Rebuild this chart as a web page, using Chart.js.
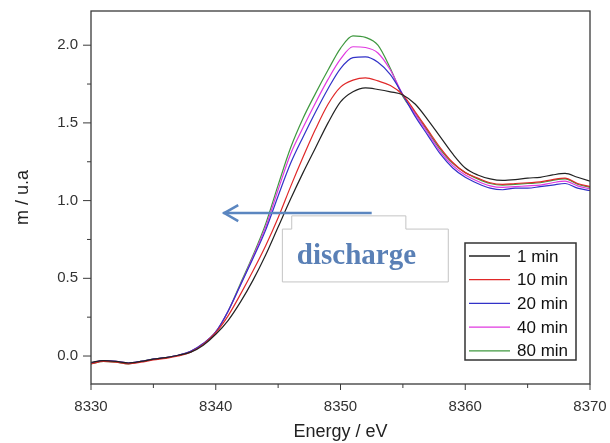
<!DOCTYPE html>
<html>
<head>
<meta charset="utf-8">
<script src="https://cdn.jsdelivr.net/npm/chart.js@4"></script>
<style>
  body { margin: 0; background: #fff; }
  canvas { display: block; }
</style>
</head>
<body>
<canvas id="xanes" width="610" height="443"></canvas>
<script>
const energy = [8330, 8331, 8332, 8333, 8334, 8335, 8336, 8337, 8338, 8339,
  8340, 8341, 8342, 8343, 8344, 8345, 8346, 8347, 8348, 8349,
  8350, 8351, 8352, 8353, 8354, 8355, 8356, 8357, 8358, 8359,
  8360, 8361, 8362, 8363, 8364, 8365, 8366, 8367, 8368, 8369, 8370];

const min1 = [-0.04, -0.03, -0.035, -0.045, -0.035, -0.02, -0.01, 0.005, 0.025, 0.07,
  0.14, 0.23, 0.35, 0.49, 0.65, 0.83, 1.01, 1.18, 1.34, 1.50,
  1.635, 1.70, 1.725, 1.715, 1.70, 1.68, 1.62, 1.52, 1.41, 1.30,
  1.21, 1.165, 1.14, 1.13, 1.135, 1.145, 1.15, 1.165, 1.175, 1.15, 1.125];
const min10 = [-0.05, -0.035, -0.04, -0.05, -0.04, -0.025, -0.015, 0.0, 0.025, 0.075,
  0.15, 0.26, 0.40, 0.55, 0.71, 0.89, 1.09, 1.28, 1.46, 1.62,
  1.73, 1.775, 1.79, 1.77, 1.74, 1.68, 1.57, 1.455, 1.34, 1.245,
  1.18, 1.145, 1.115, 1.105, 1.11, 1.115, 1.12, 1.135, 1.145, 1.11, 1.09];
const min20 = [-0.045, -0.03, -0.035, -0.045, -0.035, -0.02, -0.01, 0.005, 0.03, 0.08,
  0.155, 0.29, 0.46, 0.63, 0.81, 1.03, 1.24, 1.41, 1.57, 1.72,
  1.85, 1.92, 1.925, 1.89, 1.81, 1.68, 1.54, 1.42, 1.30, 1.21,
  1.15, 1.11, 1.08, 1.07, 1.08, 1.08, 1.09, 1.10, 1.11, 1.08, 1.065];
const min40 = [-0.045, -0.03, -0.035, -0.045, -0.035, -0.02, -0.01, 0.005, 0.03, 0.08,
  0.155, 0.29, 0.46, 0.64, 0.83, 1.07, 1.30, 1.47, 1.63, 1.78,
  1.91, 1.99, 1.985, 1.95, 1.84, 1.68, 1.555, 1.435, 1.315, 1.225,
  1.165, 1.125, 1.095, 1.085, 1.09, 1.095, 1.10, 1.115, 1.125, 1.095, 1.075];
const min80 = [-0.05, -0.035, -0.04, -0.05, -0.035, -0.02, -0.01, 0.005, 0.03, 0.08,
  0.155, 0.29, 0.47, 0.65, 0.85, 1.10, 1.34, 1.53, 1.69, 1.84,
  1.98, 2.06, 2.05, 2.00, 1.85, 1.67, 1.56, 1.445, 1.33, 1.24,
  1.18, 1.14, 1.11, 1.10, 1.105, 1.11, 1.115, 1.13, 1.14, 1.105, 1.085];

const seriesLabels = ['1 min', '10 min', '20 min', '40 min', '80 min'];
const seriesValues = [min1, min10, min20, min40, min80];
const seriesColors = ['#222222', '#e02828', '#3232c8', '#e038e0', '#3f983f'];

const xTicks = [8330, 8340, 8350, 8360, 8370];
const xMinorTicks = [8335, 8345, 8355, 8365];
const yTicks = [0.0, 0.5, 1.0, 1.5, 2.0];
const yMinorTicks = [0.25, 0.75, 1.25, 1.75];

const SANS = "'Liberation Sans', Arial, sans-serif";

function noLabelPadding(scale) {
  scale.paddingLeft = 0;
  scale.paddingRight = 0;
  scale.paddingTop = 0;
  scale.paddingBottom = 0;
}

// frame, ticks, legend, arrow and text box
const decorations = {
  id: 'decorations',
  afterDatasetsDraw(chart) {
    const ctx = chart.ctx;
    const x = chart.scales.x, y = chart.scales.y;

    // "discharge" text box (two joined boxes)
    const bx0 = x.getPixelForValue(8345.3), bx1 = x.getPixelForValue(8358.6);
    const by0 = y.getPixelForValue(0.82), by1 = y.getPixelForValue(0.48);
    const ux0 = x.getPixelForValue(8346.05), ux1 = x.getPixelForValue(8355.2);
    const uy0 = y.getPixelForValue(0.905);
    ctx.save();
    ctx.fillStyle = '#fff';
    ctx.fillRect(ux0, uy0, ux1 - ux0, by0 - uy0 + 1);
    ctx.fillRect(bx0, by0, bx1 - bx0, by1 - by0);
    ctx.strokeStyle = '#c4c4c4';
    ctx.lineWidth = 1;
    ctx.beginPath();
    ctx.moveTo(bx0 + 0.5, by0 + 0.5);
    ctx.lineTo(ux0 + 0.5, by0 + 0.5);
    ctx.lineTo(ux0 + 0.5, uy0 + 0.5);
    ctx.lineTo(ux1 + 0.5, uy0 + 0.5);
    ctx.lineTo(ux1 + 0.5, by0 + 0.5);
    ctx.lineTo(bx1 + 0.5, by0 + 0.5);
    ctx.lineTo(bx1 + 0.5, by1 + 0.5);
    ctx.lineTo(bx0 + 0.5, by1 + 0.5);
    ctx.closePath();
    ctx.stroke();
    ctx.fillStyle = '#5a80b6';
    ctx.font = "bold 29px 'Liberation Serif', 'Times New Roman', serif";
    ctx.textBaseline = 'alphabetic';
    ctx.textAlign = 'left';
    ctx.fillText('discharge', bx0 + 15, by1 - 17);

    // arrow
    const ay = y.getPixelForValue(0.92);
    const ax0 = x.getPixelForValue(8352.5), ax1 = x.getPixelForValue(8340.6);
    ctx.strokeStyle = '#5b86c0';
    ctx.lineWidth = 2.5;
    ctx.beginPath();
    ctx.moveTo(ax0, ay);
    ctx.lineTo(ax1, ay);
    ctx.stroke();
    ctx.beginPath();
    ctx.moveTo(ax1 + 15, ay - 8);
    ctx.lineTo(ax1 + 1, ay);
    ctx.lineTo(ax1 + 15, ay + 8);
    ctx.stroke();

    // legend
    const lx = 465, ly = 243, lw = 111, lh = 117;
    ctx.fillStyle = '#fff';
    ctx.fillRect(lx, ly, lw, lh);
    ctx.strokeStyle = '#333';
    ctx.lineWidth = 1.5;
    ctx.strokeRect(lx, ly, lw, lh);
    ctx.font = '17px ' + SANS;
    ctx.textBaseline = 'middle';
    chart.data.datasets.forEach((ds, i) => {
      const ry = ly + 13 + i * 23.7;
      ctx.strokeStyle = ds.borderColor;
      ctx.lineWidth = 1.3;
      ctx.beginPath();
      ctx.moveTo(lx + 4, ry);
      ctx.lineTo(lx + 45, ry);
      ctx.stroke();
      ctx.fillStyle = '#111';
      ctx.fillText(ds.label, lx + 52, ry + 1);
    });
    ctx.restore();
  },
  afterDraw(chart) {
    const ctx = chart.ctx;
    const a = chart.chartArea;
    const x = chart.scales.x, y = chart.scales.y;
    ctx.save();
    ctx.strokeStyle = '#3a3a3a';
    ctx.lineWidth = 1.3;
    ctx.strokeRect(a.left, a.top, a.right - a.left, a.bottom - a.top);
    ctx.lineWidth = 1;
    ctx.beginPath();
    xTicks.forEach(v => { const p = x.getPixelForValue(v); ctx.moveTo(p, a.bottom); ctx.lineTo(p, a.bottom + 6); });
    xMinorTicks.forEach(v => { const p = x.getPixelForValue(v); ctx.moveTo(p, a.bottom); ctx.lineTo(p, a.bottom + 4); });
    yTicks.forEach(v => { const p = y.getPixelForValue(v); ctx.moveTo(a.left, p); ctx.lineTo(a.left - 8, p); });
    yMinorTicks.forEach(v => { const p = y.getPixelForValue(v); ctx.moveTo(a.left, p); ctx.lineTo(a.left - 4, p); });
    ctx.stroke();
    ctx.restore();
  }
};

new Chart(document.getElementById('xanes'), {
  type: 'line',
  data: {
    datasets: seriesLabels.map((label, i) => ({
      label: label,
      data: energy.map((e, j) => ({ x: e, y: seriesValues[i][j] })),
      borderColor: seriesColors[i],
      borderWidth: 1.2,
      pointRadius: 0,
      cubicInterpolationMode: 'monotone',
      fill: false
    }))
  },
  options: {
    responsive: false,
    animation: false,
    devicePixelRatio: 1,
    layout: { padding: { left: 0, right: 20, top: 11, bottom: 0 } },
    plugins: {
      legend: { display: false },
      tooltip: { enabled: false }
    },
    scales: {
      x: {
        type: 'linear',
        min: 8330,
        max: 8370,
        afterFit: scale => { scale.height = 59; noLabelPadding(scale); },
        afterBuildTicks: scale => { scale.ticks = xTicks.map(v => ({ value: v })); },
        grid: { display: false },
        border: { display: false },
        ticks: {
          padding: 6,
          color: '#333',
          font: { family: SANS, size: 15 },
          maxRotation: 0,
          callback: v => String(v)
        },
        title: {
          display: true,
          text: 'Energy / eV',
          color: '#222',
          font: { family: SANS, size: 18 },
          padding: { top: 0, bottom: 0 }
        }
      },
      y: {
        type: 'linear',
        min: -0.18,
        max: 2.22,
        afterFit: scale => { scale.width = 91; noLabelPadding(scale); },
        afterBuildTicks: scale => { scale.ticks = yTicks.map(v => ({ value: v })); },
        grid: { display: false },
        border: { display: false },
        ticks: {
          padding: 5,
          color: '#333',
          font: { family: SANS, size: 15 },
          callback: v => Number(v).toFixed(1)
        },
        title: {
          display: true,
          text: 'm / u.a',
          color: '#222',
          font: { family: SANS, size: 18 },
          padding: { top: 12, bottom: 0 }
        }
      }
    }
  },
  plugins: [decorations]
});
</script>
</body>
</html>
